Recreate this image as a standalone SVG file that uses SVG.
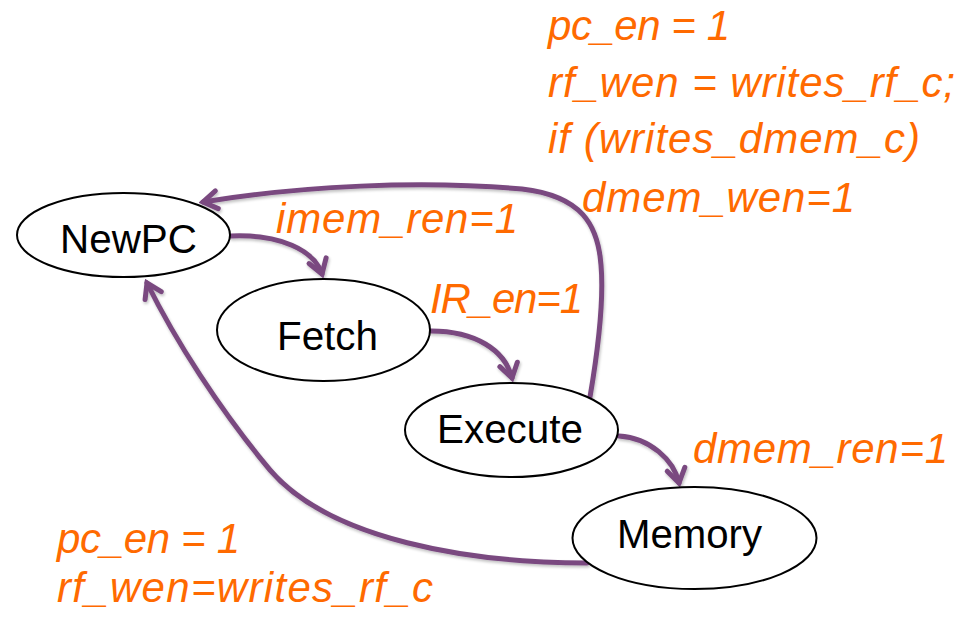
<svg xmlns="http://www.w3.org/2000/svg" width="979" height="621" viewBox="0 0 979 621">
<defs>
<marker id="arr" markerUnits="userSpaceOnUse" viewBox="0 0 24 24" refX="20" refY="12" markerWidth="24" markerHeight="24" orient="auto">
<path d="M6,3 L20,12 L6,21" fill="none" stroke="#7A4A80" stroke-width="5" stroke-linecap="round" stroke-linejoin="miter"/>
</marker>
<filter id="sh" x="-10%" y="-10%" width="130%" height="130%">
<feGaussianBlur in="SourceAlpha" stdDeviation="1.5"/>
<feOffset dx="1" dy="2" result="b"/>
<feComponentTransfer><feFuncA type="linear" slope="0.25"/></feComponentTransfer>
<feMerge><feMergeNode/><feMergeNode in="SourceGraphic"/></feMerge>
</filter>
</defs>
<style>
.node ellipse{fill:#fff;stroke:#000;stroke-width:2}
.node text{font-family:"Liberation Sans",Arial,sans-serif;font-size:41px;fill:#000}
.lbl{font-family:"Liberation Sans",Arial,sans-serif;font-size:42px;font-style:italic;fill:#FF6A00}
.edge{fill:none;stroke:#7A4A80;stroke-width:5;stroke-linecap:round;marker-end:url(#arr)}
</style>
<rect width="979" height="621" fill="#fff"/>
<g id="connectors" filter="url(#sh)">
<path class="edge" d="M231,236 C280,234 314,250 322,274"/>
<path class="edge" d="M431,331 C475,331 505,350 512,378"/>
<path class="edge" d="M619,436 C650,438 674,460 679,483"/>
<path class="edge" d="M590,397 C598,350 604,300 601,265 C598,225 582,196 522,189 C420,180 300,186 203,202"/>
<path class="edge" d="M587,563 C470,563 330,540 270,470 C220,410 175,340 147,283"/>
</g>
<g id="newpc" class="node"><ellipse cx="123.5" cy="235" rx="106.5" ry="42"/><text x="60" y="253" textLength="137" lengthAdjust="spacingAndGlyphs">NewPC</text></g>
<g id="fetch" class="node"><ellipse cx="323.5" cy="330" rx="106.5" ry="51"/><text x="277" y="350" textLength="101" lengthAdjust="spacingAndGlyphs">Fetch</text></g>
<g id="execute" class="node"><ellipse cx="511.5" cy="430" rx="106.5" ry="47"/><text x="437" y="443" textLength="146" lengthAdjust="spacingAndGlyphs">Execute</text></g>
<g id="memory" class="node"><ellipse cx="694.5" cy="538" rx="122" ry="51"/><text x="617" y="548" textLength="145" lengthAdjust="spacingAndGlyphs">Memory</text></g>
<g id="labels">
<text class="lbl" x="276" y="233" textLength="242">imem_ren=1</text>
<text class="lbl" x="430" y="313" textLength="153">IR_en=1</text>
<text class="lbl" x="693" y="463" textLength="255">dmem_ren=1</text>
<text class="lbl" x="548" y="40" textLength="182">pc_en = 1</text>
<text class="lbl" x="548" y="97" textLength="407">rf_wen = writes_rf_c;</text>
<text class="lbl" x="548" y="153" textLength="372">if (writes_dmem_c)</text>
<text class="lbl" x="582" y="212" textLength="273">dmem_wen=1</text>
<text class="lbl" x="57" y="553" textLength="183">pc_en = 1</text>
<text class="lbl" x="57" y="602" textLength="376">rf_wen=writes_rf_c</text>
</g>
</svg>
